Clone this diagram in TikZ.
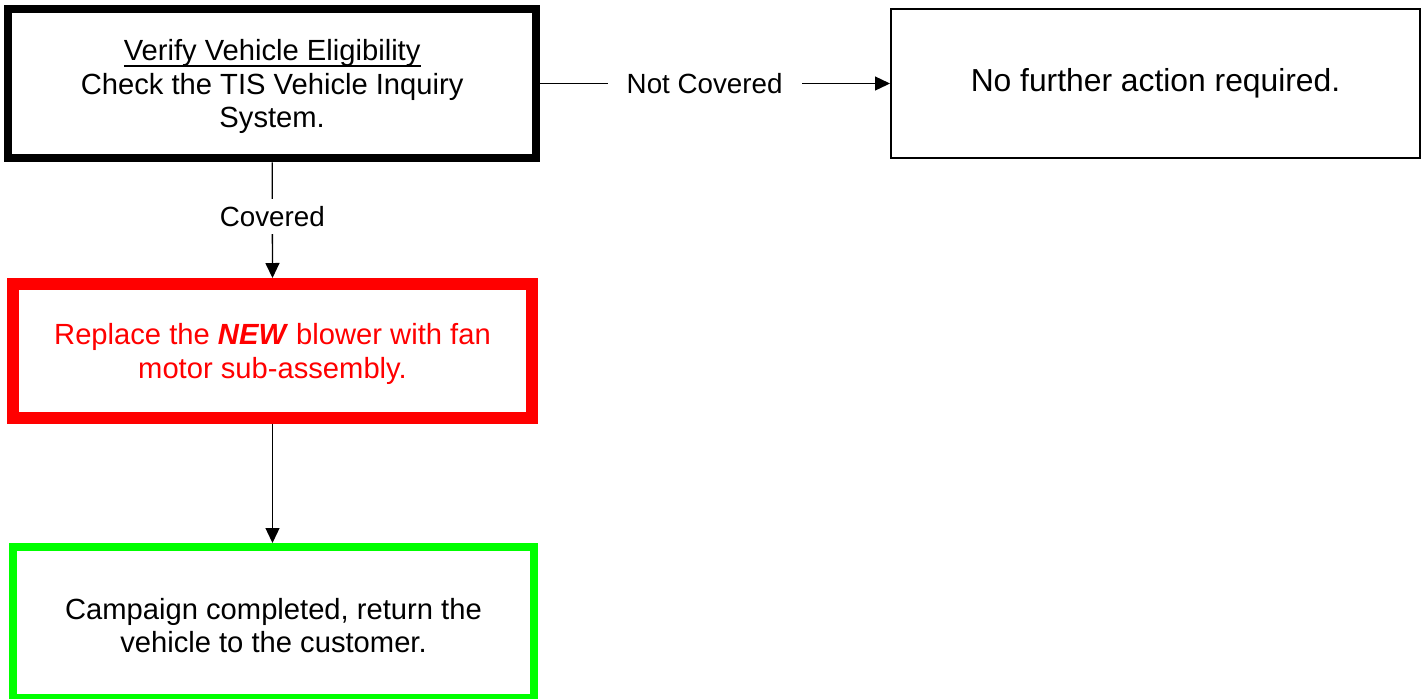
\documentclass[tikz,border=0pt]{standalone}
\usepackage{fontspec}
\setmainfont{Liberation Sans}
\usetikzlibrary{arrows.meta}
\definecolor{boxred}{RGB}{255,0,0}
\definecolor{boxgreen}{RGB}{0,255,0}
\newcommand{\topstrut}{\rule{0pt}{15.5pt}}
\newcommand{\undertext}[1]{\setbox0\hbox{#1}\rlap{\rule[-3.4pt]{\wd0}{1.13pt}}\box0}

\begin{document}
\begin{tikzpicture}[
  box/.style={rectangle, draw, align=center, fill=white, font=\fontsize{16.6}{19}\selectfont},
  lbl/.style={fill=white, inner xsep=0.38cm, inner ysep=0.15cm, font=\fontsize{15.8}{18}\selectfont},
  arr/.style={line width=0.026cm, -{Triangle[length=0.3cm,width=0.28cm]}}
]
\useasboundingbox (0,0) rectangle (28.52,-13.96);
\node[box, line width=0.16cm, minimum width=10.566cm, minimum height=2.992cm] (verify) at (5.443,-1.67) {\topstrut\undertext{Verify Vehicle Eligibility}\\Check the TIS Vehicle Inquiry\\System.};
\node[box, line width=0.04cm, minimum width=10.58cm, minimum height=2.988cm, font=\fontsize{18.1}{21}\selectfont] (none) at (23.11,-1.67) {No further action required.};
\node[box, draw=boxred, text=boxred, line width=0.24cm, minimum width=10.368cm, minimum height=2.67cm] (replace) at (5.45,-7.015) {\topstrut Replace the \textbf{\textit{NEW}} blower with fan\\motor sub-assembly.};
\node[box, draw=boxgreen, line width=0.16cm, minimum width=10.408cm, minimum height=3.026cm] (done) at (5.47,-12.453) {\topstrut Campaign completed, return the\\vehicle to the customer.};
\draw[arr] (verify.east) -- node[lbl, pos=0.47] {Not Covered} (none.west);
\draw[arr] (verify.south) -- node[lbl, pos=0.47] {Covered} (replace.north);
\draw[arr] (replace.south) -- (replace.south |- done.north);
\end{tikzpicture}
\end{document}
